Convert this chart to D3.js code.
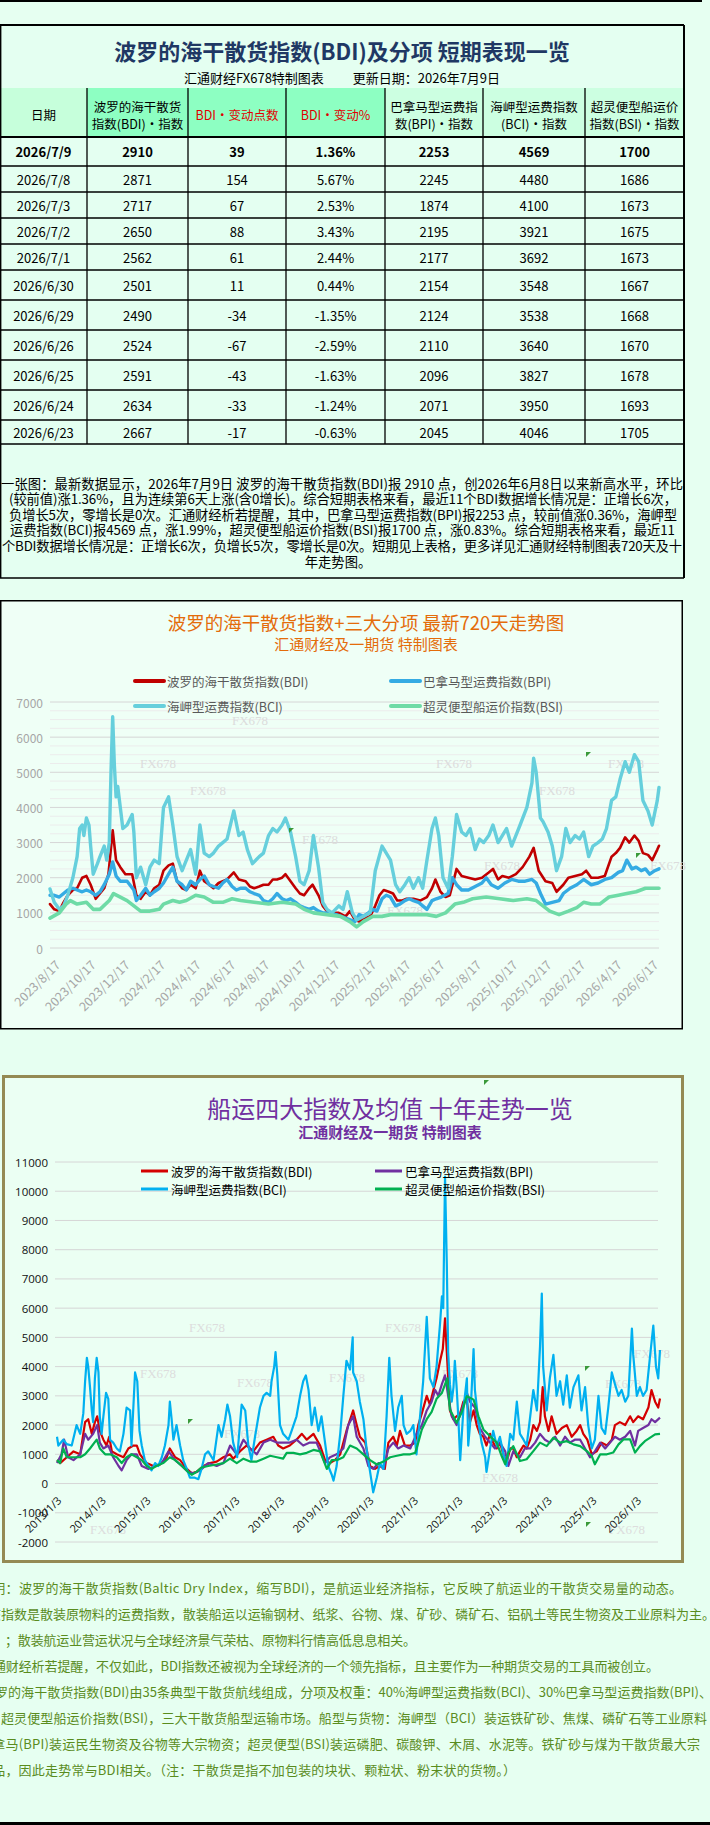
<!DOCTYPE html>
<html><head><meta charset="utf-8">
<script src="https://cdn.jsdelivr.net/npm/d3@7"></script>
<style>html,body{margin:0;padding:0;background:#e6fff1;}svg{display:block;}</style>
</head><body>
<svg id="c" width="710" height="1825"></svg>
<script>
// ---------------- DATA ----------------
const tableTitle = "波罗的海干散货指数(BDI)及分项 短期表现一览";
const tableSub = "汇通财经FX678特制图表　　 更新日期：2026年7月9日";
const tableHeaders = [["日期"],["波罗的海干散货","指数(BDI)・指数"],["BDI・变动点数"],["BDI・变动%"],["巴拿马型运费指","数(BPI)・指数"],["海岬型运费指数","(BCI)・指数"],["超灵便型船运价","指数(BSI)・指数"]];
const tableDates = ["2026/7/9","2026/7/8","2026/7/3","2026/7/2","2026/7/1","2026/6/30","2026/6/29","2026/6/26","2026/6/25","2026/6/24","2026/6/23"];
const tableBDI = [2910,2871,2717,2650,2562,2501,2490,2524,2591,2634,2667];
const tableChg = [39,154,67,88,61,11,-34,-67,-43,-33,-17];
const tablePct = ["1.36%","5.67%","2.53%","3.43%","2.44%","0.44%","-1.35%","-2.59%","-1.63%","-1.24%","-0.63%"];
const tableBPI = [2253,2245,1874,2195,2177,2154,2124,2110,2096,2071,2045];
const tableBCI = [4569,4480,4100,3921,3692,3548,3538,3640,3827,3950,4046];
const tableBSI = [1700,1686,1673,1675,1673,1667,1668,1670,1678,1693,1705];

const summaryLines = [
 "一张图：最新数据显示，2026年7月9日 波罗的海干散货指数(BDI)报 2910 点，创2026年6月8日以来新高水平，环比",
 "(较前值)涨1.36%，且为连续第6天上涨(含0增长)。综合短期表格来看，最近11个BDI数据增长情况是：正增长6次，",
 "负增长5次，零增长是0次。汇通财经析若提醒，其中，巴拿马型运费指数(BPI)报2253 点，较前值涨0.36%，海岬型",
 "运费指数(BCI)报4569 点，涨1.99%，超灵便型船运价指数(BSI)报1700 点，涨0.83%。综合短期表格来看，最近11",
 "个BDI数据增长情况是：正增长6次，负增长5次，零增长是0次。短期见上表格，更多详见汇通财经特制图表720天及十",
 "年走势图。"
];

const c1Title = "波罗的海干散货指数+三大分项  最新720天走势图";
const c1Sub = "汇通财经及一期货  特制图表";
const seriesNames = ["波罗的海干散货指数(BDI)","巴拿马型运费指数(BPI)","海岬型运费指数(BCI)","超灵便型船运价指数(BSI)"];
const ticks720 = ["2023/8/17","2023/10/17","2023/12/17","2024/2/17","2024/4/17","2024/6/17","2024/8/17","2024/10/17","2024/12/17","2025/2/17","2025/4/17","2025/6/17","2025/8/17","2025/10/17","2025/12/17","2026/2/17","2026/4/17","2026/6/17"];
const tickIdx720 = [5,47,87,129,171,212,252,295,335,378,419,459,502,545,585,625,668,711];

// [trading-day index, value]
const bdi720 = [[0,1250],[5,1100],[11,1050],[16,1300],[21,1500],[27,1650],[32,1700],[38,2000],[43,2050],[48,1800],[54,1400],[59,1550],[64,1700],[69,2100],[74,3350],[78,2500],[83,2300],[89,2100],[97,2100],[102,1500],[107,1400],[113,1600],[118,1500],[123,1700],[129,1800],[134,2200],[140,2350],[145,2400],[150,1900],[156,1700],[161,1650],[166,1800],[172,1700],[177,2200],[182,1900],[188,1800],[193,1700],[199,1850],[204,1900],[209,1950],[217,2150],[223,1950],[231,1900],[236,1750],[241,1700],[247,1750],[252,1800],[258,1800],[263,1950],[268,1950],[274,2000],[278,2100],[284,1900],[290,1700],[295,1550],[300,1500],[306,1700],[310,1800],[317,1500],[322,1200],[327,1050],[333,1000],[341,1000],[349,900],[354,1050],[360,800],[365,750],[370,850],[378,900],[384,1200],[389,1500],[394,1650],[400,1600],[405,1550],[410,1350],[416,1350],[421,1400],[429,1400],[437,1350],[445,1450],[451,1700],[455,1950],[461,1600],[467,1450],[472,1500],[480,2250],[486,2050],[494,2000],[502,1950],[510,2000],[518,2150],[523,2250],[529,1950],[534,2050],[542,2000],[550,2100],[558,2300],[566,2600],[571,2850],[577,2200],[585,1900],[593,1850],[598,1600],[606,1800],[612,2000],[620,2050],[628,2100],[633,2200],[639,2000],[647,2000],[655,2050],[663,2600],[668,2700],[673,2850],[679,3150],[684,3000],[690,3200],[695,3050],[700,2700],[706,2650],[711,2500],[717,2800],[719,2910]];
const bpi720 = [[0,1500],[5,1500],[11,1450],[16,1550],[21,1650],[27,1700],[32,1650],[38,1600],[43,1650],[48,1600],[54,1500],[59,1600],[64,1800],[70,2100],[74,2450],[78,2050],[83,1900],[91,1900],[99,1650],[102,1350],[107,1500],[113,1700],[118,1500],[123,1600],[129,1700],[134,1850],[140,2100],[145,2300],[150,1900],[156,1800],[161,1650],[166,1900],[172,1800],[177,1950],[182,2050],[188,1800],[193,1750],[199,1700],[204,1850],[209,1950],[215,1750],[220,1650],[225,1700],[231,1700],[236,1600],[241,1550],[247,1500],[252,1350],[258,1300],[263,1400],[268,1550],[274,1400],[279,1350],[284,1400],[290,1300],[295,1200],[300,1150],[306,1100],[311,1150],[317,1050],[322,1000],[327,1000],[338,950],[349,850],[360,750],[365,950],[370,900],[376,1000],[381,1100],[386,1050],[392,1400],[397,1500],[402,1450],[408,1200],[413,1250],[419,1350],[424,1400],[429,1350],[435,1300],[440,1200],[445,1100],[451,1350],[456,1400],[462,1450],[470,1550],[475,2000],[480,1800],[486,1650],[494,1650],[502,1750],[510,1850],[515,2000],[521,1800],[529,1700],[537,1850],[545,1950],[553,1900],[561,1900],[569,1950],[574,1850],[580,1500],[585,1250],[593,1300],[601,1350],[606,1550],[614,1700],[622,1800],[630,1950],[639,1800],[647,1850],[655,1950],[663,2000],[671,2150],[676,2200],[681,2500],[687,2250],[692,2300],[698,2200],[703,2250],[708,2100],[714,2200],[719,2253]];
const bci720 = [[0,1680],[5,1300],[11,1100],[16,1200],[21,1500],[27,2000],[32,2600],[35,3400],[38,3500],[40,3200],[43,3700],[46,3500],[48,2900],[51,2100],[56,2400],[59,2600],[64,2900],[67,2500],[70,3000],[72,5000],[74,6580],[76,5200],[78,4300],[80,4600],[83,4000],[86,3400],[91,3500],[97,3800],[99,3300],[102,2000],[107,2300],[113,1800],[118,2300],[123,2500],[129,2400],[134,4000],[140,4300],[145,3500],[150,2600],[156,2200],[161,2500],[166,2800],[172,2100],[177,3500],[182,2700],[188,2600],[193,2700],[199,2900],[204,3000],[209,3100],[217,3900],[223,3200],[228,3300],[233,2800],[239,2400],[247,2600],[252,2700],[258,3200],[263,3400],[268,3300],[274,3500],[278,3700],[284,3300],[290,2600],[295,1900],[300,1800],[306,2200],[311,3200],[317,2300],[322,1300],[327,1100],[333,1000],[341,1200],[346,1100],[351,1600],[357,1000],[362,800],[370,900],[378,1000],[384,2200],[392,2900],[397,2700],[402,2500],[408,1800],[413,1600],[419,1800],[424,2000],[429,1700],[435,2000],[440,1700],[445,2500],[451,3400],[455,3700],[459,3200],[464,2000],[470,1700],[475,2600],[480,3800],[486,3300],[491,3200],[496,3400],[502,2800],[507,3100],[512,3000],[518,3200],[523,3500],[529,3000],[534,3200],[539,3400],[545,2900],[550,3200],[555,3500],[563,4000],[569,4700],[571,5400],[574,5000],[579,3700],[582,3600],[588,3300],[593,2900],[598,2200],[604,2600],[609,3400],[614,3000],[620,3200],[625,3100],[630,3300],[636,2600],[641,2900],[647,3000],[652,3100],[657,3400],[663,4200],[668,4300],[673,4800],[679,5300],[684,5000],[690,5500],[695,5300],[700,4200],[706,3900],[711,3500],[717,4200],[719,4569]];
const bsi720 = [[0,850],[11,1000],[19,1250],[24,1350],[32,1250],[43,1300],[51,1100],[59,1100],[70,1350],[75,1550],[83,1450],[91,1350],[99,1200],[107,1050],[118,1050],[129,1100],[134,1250],[145,1350],[153,1300],[161,1350],[172,1500],[182,1450],[193,1300],[204,1300],[215,1400],[225,1350],[241,1300],[258,1250],[274,1300],[290,1250],[300,1100],[311,1000],[327,950],[343,900],[354,750],[362,600],[370,750],[381,900],[392,900],[402,950],[413,950],[429,950],[445,950],[456,900],[467,1000],[478,1250],[488,1300],[499,1400],[515,1450],[531,1400],[547,1350],[563,1400],[574,1350],[582,1200],[590,1050],[601,950],[612,1050],[622,1150],[630,1300],[639,1250],[649,1250],[660,1450],[671,1500],[681,1550],[692,1600],[703,1700],[719,1700]];

const c2Title = "船运四大指数及均值 十年走势一览";
const c2Sub = "汇通财经及一期货 特制图表";
const years10y = [2013,2014,2015,2016,2017,2018,2019,2020,2021,2022,2023,2024,2025,2026];
const ticks10y = ["2013/1/3","2014/1/3","2015/1/3","2016/1/3","2017/1/3","2018/1/3","2019/1/3","2020/1/3","2021/1/3","2022/1/3","2023/1/3","2024/1/3","2025/1/3","2026/1/3"];
// [decimal year, value]
const bdi10y = [[2013.00,800],[2013.07,700],[2013.22,900],[2013.37,1100],[2013.52,1000],[2013.63,2100],[2013.70,2200],[2013.78,1700],[2013.85,2100],[2013.90,2300],[2013.96,1800],[2014.04,1500],[2014.11,1300],[2014.17,1600],[2014.23,1100],[2014.34,1000],[2014.49,900],[2014.60,1200],[2014.71,1300],[2014.79,1300],[2014.86,1000],[2015.01,700],[2015.16,600],[2015.31,650],[2015.46,900],[2015.53,1200],[2015.65,900],[2015.76,800],[2015.91,500],[2016.02,350],[2016.13,400],[2016.28,600],[2016.43,700],[2016.58,750],[2016.73,900],[2016.88,1000],[2016.95,850],[2017.10,1100],[2017.25,1300],[2017.40,1100],[2017.55,1400],[2017.70,1500],[2017.85,1600],[2017.96,1300],[2018.07,1200],[2018.22,1300],[2018.37,1500],[2018.49,1700],[2018.60,1500],[2018.75,1700],[2018.90,1300],[2019.01,800],[2019.12,700],[2019.23,800],[2019.35,1000],[2019.49,1800],[2019.64,2500],[2019.72,2000],[2019.79,1600],[2019.91,1400],[2020.02,600],[2020.13,500],[2020.24,600],[2020.35,500],[2020.43,1400],[2020.54,1600],[2020.62,1300],[2020.69,1800],[2020.80,1300],[2020.92,1300],[2021.03,1400],[2021.10,2000],[2021.18,2400],[2021.29,3000],[2021.36,2700],[2021.44,3200],[2021.51,3600],[2021.59,4200],[2021.65,4600],[2021.70,5650],[2021.75,4200],[2021.81,2500],[2021.89,2200],[2021.96,2300],[2022.04,2400],[2022.11,2800],[2022.19,2800],[2022.26,2100],[2022.34,2500],[2022.41,2000],[2022.48,1700],[2022.56,1600],[2022.63,1300],[2022.71,1700],[2022.78,1400],[2022.86,1200],[2022.93,1400],[2023.01,1000],[2023.08,700],[2023.16,1200],[2023.23,1200],[2023.31,900],[2023.38,1100],[2023.46,1300],[2023.53,1200],[2023.61,1500],[2023.68,2000],[2023.76,1800],[2023.83,2100],[2023.89,3300],[2023.94,2300],[2024.02,1800],[2024.09,2300],[2024.20,1700],[2024.32,1900],[2024.43,2000],[2024.54,1600],[2024.65,1800],[2024.73,2000],[2024.80,1700],[2024.89,1500],[2024.99,1000],[2025.10,1100],[2025.21,1400],[2025.33,1300],[2025.44,1500],[2025.51,2000],[2025.62,2100],[2025.74,2000],[2025.85,2300],[2025.92,2100],[2026.03,2300],[2026.14,2200],[2026.26,2600],[2026.33,3200],[2026.41,2800],[2026.48,2600],[2026.52,2910]];
const bpi10y = [[2013.00,700],[2013.10,1000],[2013.16,1500],[2013.25,900],[2013.37,800],[2013.52,1000],[2013.63,1700],[2013.70,1500],[2013.81,1700],[2013.90,2000],[2013.96,1400],[2014.04,1200],[2014.15,1300],[2014.26,900],[2014.38,600],[2014.45,450],[2014.56,800],[2014.67,1000],[2014.79,1000],[2014.90,600],[2015.05,500],[2015.20,600],[2015.35,700],[2015.50,1100],[2015.65,800],[2015.80,600],[2015.94,400],[2016.06,350],[2016.21,450],[2016.39,700],[2016.58,600],[2016.73,700],[2016.88,1300],[2017.03,1000],[2017.18,1500],[2017.33,1200],[2017.48,1000],[2017.63,1400],[2017.78,1500],[2017.93,1400],[2018.07,1400],[2018.22,1400],[2018.37,1500],[2018.52,1300],[2018.67,1400],[2018.82,1400],[2019.01,700],[2019.12,900],[2019.27,1000],[2019.42,1200],[2019.53,2000],[2019.64,2300],[2019.72,1600],[2019.87,1200],[2019.98,600],[2020.09,500],[2020.21,700],[2020.32,500],[2020.43,1200],[2020.54,1400],[2020.65,1200],[2020.77,1300],[2020.92,1200],[2021.06,1700],[2021.18,2000],[2021.29,2500],[2021.40,2800],[2021.48,3200],[2021.55,3000],[2021.63,3400],[2021.70,3700],[2021.77,3000],[2021.85,2300],[2021.96,2000],[2022.07,2500],[2022.19,3100],[2022.26,2800],[2022.37,2600],[2022.48,1900],[2022.60,1600],[2022.71,1400],[2022.82,1200],[2022.93,1400],[2023.05,1100],[2023.12,600],[2023.23,1100],[2023.38,900],[2023.49,1200],[2023.61,1200],[2023.72,1400],[2023.83,1700],[2023.94,1500],[2024.05,1400],[2024.17,1600],[2024.28,1300],[2024.39,1600],[2024.50,1400],[2024.61,1500],[2024.73,1500],[2024.84,1200],[2024.95,900],[2025.06,1100],[2025.18,1400],[2025.29,1200],[2025.40,1400],[2025.51,1600],[2025.62,1500],[2025.74,1600],[2025.85,1800],[2025.96,1300],[2026.03,1800],[2026.14,1900],[2026.26,2000],[2026.33,2200],[2026.41,2100],[2026.52,2253]];
const bci10y = [[2013.00,1600],[2013.03,1300],[2013.14,1500],[2013.22,1350],[2013.33,1300],[2013.44,2000],[2013.52,1700],[2013.59,2400],[2013.63,3500],[2013.67,4300],[2013.70,4000],[2013.74,3300],[2013.78,2500],[2013.81,2100],[2013.85,3600],[2013.89,4300],[2013.93,3800],[2013.96,2300],[2014.00,1700],[2014.04,2300],[2014.10,3100],[2014.15,2900],[2014.19,1500],[2014.26,1400],[2014.34,1200],[2014.41,1100],[2014.49,1700],[2014.56,2600],[2014.64,2500],[2014.67,1300],[2014.75,3800],[2014.80,3500],[2014.85,1800],[2014.90,1300],[2014.97,800],[2015.05,600],[2015.12,450],[2015.20,700],[2015.27,600],[2015.35,900],[2015.42,1300],[2015.50,2000],[2015.53,2800],[2015.57,2200],[2015.61,1500],[2015.68,2000],[2015.76,1300],[2015.83,800],[2015.91,500],[2015.98,200],[2016.09,200],[2016.17,150],[2016.24,500],[2016.32,1000],[2016.39,1100],[2016.51,800],[2016.62,2000],[2016.69,1600],[2016.77,2200],[2016.82,2700],[2016.88,2300],[2016.95,1400],[2017.04,900],[2017.14,2700],[2017.22,2500],[2017.29,1300],[2017.36,800],[2017.44,1600],[2017.55,2600],[2017.63,3000],[2017.70,3100],[2017.78,3000],[2017.81,3500],[2017.87,4000],[2017.90,4500],[2017.94,3700],[2018.00,2000],[2018.07,1700],[2018.19,1500],[2018.26,1800],[2018.37,2300],[2018.45,3000],[2018.52,3500],[2018.58,3700],[2018.64,3200],[2018.71,2000],[2018.78,2600],[2018.86,1800],[2018.93,2300],[2019.01,1400],[2019.08,600],[2019.16,300],[2019.20,100],[2019.27,600],[2019.35,1700],[2019.42,3000],[2019.49,4200],[2019.57,3900],[2019.63,5000],[2019.64,3800],[2019.72,3500],[2019.79,2800],[2019.87,2200],[2019.94,1200],[2020.02,400],[2020.09,-300],[2020.17,200],[2020.24,700],[2020.32,500],[2020.39,2300],[2020.45,4300],[2020.50,3000],[2020.58,1800],[2020.65,2600],[2020.73,3000],[2020.77,2000],[2020.84,1700],[2020.92,1800],[2020.99,2000],[2021.06,1000],[2021.14,2300],[2021.21,3500],[2021.29,5700],[2021.36,3600],[2021.44,3300],[2021.51,4000],[2021.59,5500],[2021.63,6400],[2021.66,6000],[2021.70,10500],[2021.74,7500],[2021.77,4500],[2021.81,3400],[2021.85,2800],[2021.89,3300],[2021.92,4200],[2021.96,3300],[2022.00,2200],[2022.04,800],[2022.11,2500],[2022.19,3600],[2022.22,1300],[2022.26,2000],[2022.34,4600],[2022.37,3200],[2022.45,2100],[2022.52,1400],[2022.60,900],[2022.63,400],[2022.71,1200],[2022.78,1800],[2022.86,1300],[2022.93,1600],[2023.01,1000],[2023.08,600],[2023.16,1700],[2023.23,1500],[2023.31,2800],[2023.38,1700],[2023.46,1500],[2023.53,1300],[2023.61,2300],[2023.68,3200],[2023.76,2500],[2023.83,4700],[2023.87,6500],[2023.90,4000],[2023.98,2500],[2024.05,3600],[2024.13,4400],[2024.20,3000],[2024.28,3500],[2024.35,2700],[2024.43,3700],[2024.50,2600],[2024.58,3300],[2024.69,3700],[2024.76,2500],[2024.84,3300],[2024.91,2000],[2024.99,1200],[2025.06,1500],[2025.14,3000],[2025.21,1900],[2025.29,1700],[2025.36,2600],[2025.44,3800],[2025.51,3400],[2025.59,3000],[2025.66,3200],[2025.74,2800],[2025.81,3000],[2025.89,5300],[2025.92,4400],[2026.00,3000],[2026.07,3300],[2026.14,3000],[2026.22,3200],[2026.30,4400],[2026.37,5400],[2026.43,4000],[2026.48,3600],[2026.52,4569]];
const bsi10y = [[2013.00,800],[2013.07,700],[2013.14,1200],[2013.22,900],[2013.37,900],[2013.52,900],[2013.63,1000],[2013.74,1200],[2013.89,1500],[2013.96,1200],[2014.08,1000],[2014.19,1000],[2014.34,900],[2014.45,700],[2014.56,900],[2014.67,1000],[2014.79,900],[2014.90,800],[2015.01,600],[2015.12,500],[2015.23,600],[2015.38,700],[2015.53,900],[2015.65,800],[2015.80,600],[2015.94,400],[2016.02,300],[2016.13,400],[2016.24,550],[2016.39,600],[2016.58,650],[2016.73,700],[2016.88,850],[2017.03,700],[2017.18,850],[2017.33,750],[2017.48,750],[2017.63,850],[2017.78,950],[2017.93,900],[2018.07,850],[2018.15,1050],[2018.30,1050],[2018.45,1000],[2018.60,1050],[2018.75,1150],[2018.90,1100],[2019.05,500],[2019.16,800],[2019.27,800],[2019.42,900],[2019.57,1300],[2019.72,1200],[2019.87,1000],[2020.02,800],[2020.17,650],[2020.32,750],[2020.47,900],[2020.62,950],[2020.77,1000],[2020.92,1000],[2021.03,1050],[2021.10,1400],[2021.18,1850],[2021.29,2200],[2021.40,2450],[2021.51,2900],[2021.63,3100],[2021.75,3600],[2021.81,2530],[2021.96,2080],[2022.07,2420],[2022.19,2990],[2022.34,2870],[2022.45,2300],[2022.56,1850],[2022.71,1620],[2022.86,1400],[2022.97,940],[2023.05,660],[2023.12,1060],[2023.23,1280],[2023.38,770],[2023.53,830],[2023.68,1110],[2023.83,1400],[2023.98,1280],[2024.13,1570],[2024.28,1400],[2024.43,1450],[2024.58,1340],[2024.73,1280],[2024.88,1110],[2024.99,940],[2025.06,660],[2025.18,1000],[2025.33,1000],[2025.47,1060],[2025.59,1340],[2025.70,1510],[2025.85,1510],[2025.96,1060],[2026.07,1280],[2026.18,1450],[2026.30,1570],[2026.41,1680],[2026.52,1700]];

const notesLines = [
 "说明：波罗的海干散货指数(Baltic Dry Index，缩写BDI)，是航运业经济指标，它反映了航运业的干散货交易量的动态。",
 "该指数是散装原物料的运费指数，散装船运以运输钢材、纸浆、谷物、煤、矿砂、磷矿石、铝矾土等民生物资及工业原料为主。",
 "；散装航运业营运状况与全球经济景气荣枯、原物料行情高低息息相关。",
 "汇通财经析若提醒，不仅如此，BDI指数还被视为全球经济的一个领先指标，且主要作为一种期货交易的工具而被创立。",
 "波罗的海干散货指数(BDI)由35条典型干散货航线组成，分项及权重：40%海岬型运费指数(BCI)、30%巴拿马型运费指数(BPI)、",
 "超灵便型船运价指数(BSI)，三大干散货船型运输市场。船型与货物：海岬型（BCI）装运铁矿砂、焦煤、磷矿石等工业原料",
 "巴拿马(BPI)装运民生物资及谷物等大宗物资；超灵便型(BSI)装运磷肥、碳酸钾、木屑、水泥等。铁矿砂与煤为干散货最大宗",
 "商品，因此走势常与BDI相关。（注：干散货是指不加包装的块状、颗粒状、粉末状的货物。）"
];

// ---------------- DRAW ----------------
const F = "'Noto Sans CJK SC','Noto Sans',sans-serif";
const svg = d3.select("#c");
svg.append("rect").attr("width",710).attr("height",1825).attr("fill","#e6fff1");
function txt(g,x,y,s,o){
  o=o||{};
  const t=g.append("text").attr("x",x).attr("y",y).text(s)
   .attr("font-family",o.ff||F).attr("font-size",o.fs||13)
   .attr("fill",o.fill||"#000").attr("text-anchor",o.anchor||"middle")
   .attr("dominant-baseline",o.db||"central");
  if(o.fw) t.attr("font-weight",o.fw);
  if(o.tl) t.attr("textLength",o.tl).attr("lengthAdjust","spacing");
  if(o.rot!==undefined) t.attr("transform",`rotate(${o.rot},${x},${y})`);
  return t;
}
// page frame lines
svg.append("line").attr("x1",0).attr("x2",702).attr("y1",1).attr("y2",1).attr("stroke","#000").attr("stroke-width",2);
svg.append("line").attr("x1",0).attr("x2",710).attr("y1",1823.5).attr("y2",1823.5).attr("stroke","#000").attr("stroke-width",3);

// ---- table ----
const tg = svg.append("g");
const colX=[0,87,188,286,385,483,585,684];
const rowY=[137,166,192,218,244,270,300,330,360,390,420,444];
tg.append("rect").attr("x",0).attr("y",25).attr("width",684).attr("height",553).attr("fill","#e4fff1");
const headBg=["#c6ffdb","#8dffc2","#8dffc2","#8dffc2","#ccffe1","#ccffe1","#ccffe1"];
tableHeaders.forEach((h,i)=>{
  tg.append("rect").attr("x",colX[i]).attr("y",88).attr("width",colX[i+1]-colX[i]).attr("height",49).attr("fill",headBg[i]);
  const cx=(colX[i]+colX[i+1])/2;
  const red = (i===2||i===3);
  if(h.length===1) txt(tg,cx,114,h[0],{fs:12.5,fill:red?"#e00000":"#000"});
  else { txt(tg,cx,106,h[0],{fs:12.5}); txt(tg,cx,123,h[1],{fs:12.5}); }
});
txt(tg,342,50,tableTitle,{fs:22,fw:"bold",fill:"#1f3864"});
txt(tg,342,77,tableSub,{fs:13});
const cols=[tableDates,tableBDI,tableChg,tablePct,tableBPI,tableBCI,tableBSI];
tableDates.forEach((d,r)=>{
  const cy=(rowY[r]+rowY[r+1])/2;
  cols.forEach((col,ci)=>{
    txt(tg,(colX[ci]+colX[ci+1])/2,cy,String(col[r]),{fs:13,fw:r===0?"bold":null});
  });
});
// grid lines
colX.slice(1,-1).forEach(x=>tg.append("line").attr("x1",x).attr("x2",x).attr("y1",88).attr("y2",444).attr("stroke","#000").attr("stroke-width",1.3));
rowY.forEach((y,i)=>tg.append("line").attr("x1",0).attr("x2",684).attr("y1",y).attr("y2",y).attr("stroke","#000").attr("stroke-width",i===0?2:1.3));
tg.append("line").attr("x1",0).attr("x2",684).attr("y1",25).attr("y2",25).attr("stroke","#000").attr("stroke-width",2);
tg.append("line").attr("x1",684).attr("x2",684).attr("y1",25).attr("y2",578).attr("stroke","#000").attr("stroke-width",2);
tg.append("line").attr("x1",0.7).attr("x2",0.7).attr("y1",25).attr("y2",578).attr("stroke","#000").attr("stroke-width",1.4);
tg.append("line").attr("x1",0).attr("x2",684).attr("y1",578).attr("y2",578).attr("stroke","#000").attr("stroke-width",1.5);
// summary paragraph
const sumPos=[[1,683],[9,677],[9,677],[10,675],[2,682]];
summaryLines.forEach((s,i)=>{
  const y=483+15.6*i;
  if(i<sumPos.length){ const [a,b]=sumPos[i]; txt(tg,a,y,s,{fs:13.3,anchor:"start",tl:b-a}); }
  else txt(tg,338,y,s,{fs:13.3});
});

// ---- chart 1 ----
const g1=svg.append("g");
g1.append("rect").attr("x",0.75).attr("y",600.75).attr("width",681.5).attr("height",428).attr("fill","#effff6").attr("stroke","#000").attr("stroke-width",1.5);
txt(g1,366,622,c1Title,{fs:18.5,fill:"#e46c0a"});
txt(g1,366,643,c1Sub,{fs:15,fill:"#e46c0a"});
const x1=d3.scaleLinear().domain([0,719]).range([50,659]);
const y1=d3.scaleLinear().domain([0,7000]).range([948,702]);
d3.range(0,7001,250).forEach(v=>{
  const major=v%1000===0;
  g1.append("line").attr("x1",50).attr("x2",659).attr("y1",y1(v)).attr("y2",y1(v))
    .attr("stroke",major?"#d6d6d6":"#ececec").attr("stroke-width",1);
});
d3.range(0,7001,1000).forEach(v=>txt(g1,43,y1(v),String(v),{fs:12,fill:"#a6a6a6",anchor:"end"}));
ticks720.forEach((t,i)=>txt(g1,x1(tickIdx720[i])+3,962,t,{fs:12.5,fill:"#a6a6a6",anchor:"end",rot:-45}));
// watermarks
[[158,763],[208,790],[320,839],[454,763],[557,790],[502,865],[626,763],[668,865],[405,910],[250,720]].forEach(p=>txt(g1,p[0],p[1],"FX678",{fs:13,fill:"#dcdcdc",ff:"'Liberation Serif',serif"}));
const c1Colors=["#c00000","#35abe3","#66cfdc","#6edba6"];
const c1Widths=[2.6,3.4,3.4,3.6];
const line1=d3.line().x(d=>x1(d[0])).y(d=>y1(d[1]));
[bdi720,bpi720,bci720,bsi720].forEach((s,i)=>{
  g1.append("path").datum(s).attr("d",line1).attr("fill","none").attr("stroke",c1Colors[i]).attr("stroke-width",c1Widths[i]).attr("stroke-linejoin","round").attr("stroke-linecap","round");
});
// legend
const lg1=[[135,681],[391,681],[135,706],[391,706]];
seriesNames.forEach((n,i)=>{
  const [lx,ly]=lg1[i];
  g1.append("line").attr("x1",lx).attr("x2",lx+29).attr("y1",ly).attr("y2",ly).attr("stroke",c1Colors[i]).attr("stroke-width",4).attr("stroke-linecap","round");
  txt(g1,lx+32,ly,n,{fs:12.5,fill:"#595959",anchor:"start"});
});
// comment markers
[[586,752],[636,853],[289,828]].forEach(p=>g1.append("path").attr("d",`M${p[0]},${p[1]}h5l-5,5z`).attr("fill","#3a9a3a"));

// ---- chart 2 ----
const g2=svg.append("g");
g2.append("rect").attr("x",3.5).attr("y",1076.5).attr("width",679).attr("height",485).attr("fill","#ebfff3").attr("stroke","#948a54").attr("stroke-width",3);
txt(g2,390,1107,c2Title,{fs:24,fill:"#7030a0"});
txt(g2,390,1131,c2Sub,{fs:15,fw:"bold",fill:"#7030a0"});
const x2=d3.scaleLinear().domain([2013,2026.52]).range([57,660]);
const y2=d3.scaleLinear().domain([-2000,11000]).range([1542,1162]);
d3.range(-2000,11001,1000).forEach(v=>{
  g2.append("line").attr("x1",55).attr("x2",658).attr("y1",y2(v)).attr("y2",y2(v)).attr("stroke","#d6d6d6").attr("stroke-width",1);
  txt(g2,48,y2(v),String(v),{fs:11.5,fill:"#111",anchor:"end",ff:"'Open Sans','Noto Sans',sans-serif"});
});
[[207,1327],[403,1327],[158,1373],[255,1382],[347,1377],[242,1433],[500,1477],[623,1383],[652,1353],[108,1529],[627,1529],[460,1373]].forEach(p=>txt(g2,p[0],p[1],"FX678",{fs:13,fill:"#dddddd",ff:"'Liberation Serif',serif"}));
const c2Colors=["#d40000","#7030a0","#00b0f0","#00b050"];
const line2=d3.line().x(d=>x2(d[0])).y(d=>y2(d[1]));
[bdi10y,bpi10y,bci10y,bsi10y].forEach((s,i)=>{
  g2.append("path").datum(s).attr("d",line2).attr("fill","none").attr("stroke",c2Colors[i]).attr("stroke-width",2.2).attr("stroke-linejoin","round");
});
ticks10y.forEach((t,i)=>txt(g2,x2(years10y[i])+2,1498,t,{fs:11,fill:"#111",anchor:"end",rot:-45,ff:"'Open Sans','Noto Sans',sans-serif"}));
const lg2=[[141,1171],[375,1171],[141,1189],[375,1189]];
seriesNames.forEach((n,i)=>{
  const [lx,ly]=lg2[i];
  g2.append("line").attr("x1",lx).attr("x2",lx+27).attr("y1",ly).attr("y2",ly).attr("stroke",c2Colors[i]).attr("stroke-width",3);
  txt(g2,lx+30,ly,n,{fs:12.5,fill:"#000",anchor:"start"});
});
[[484,1080],[188,1419],[585,1366],[586,1522]].forEach(p=>g2.append("path").attr("d",`M${p[0]},${p[1]}h5l-5,5z`).attr("fill","#3a9a3a"));

// ---- notes ----
const notePos=[[-21,682],[-12,715],[5,416],[-20,659],[-18,712],[1,707],[-21,700],[-21,516]];
notesLines.forEach((s,i)=>{
  const [a,b]=notePos[i];
  txt(svg,a,1587+26*i,s,{fs:13,fill:"#5a8c1e",anchor:"start",tl:b-a});
});
</script>
</body></html>
